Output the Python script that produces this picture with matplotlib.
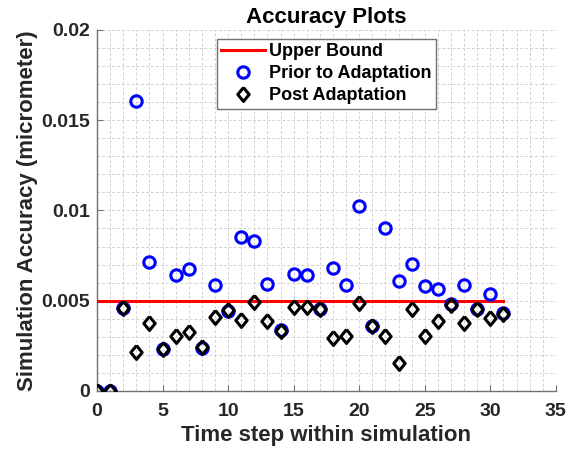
import numpy as np
import matplotlib
matplotlib.use("Agg")
import matplotlib.pyplot as plt
from matplotlib.ticker import MultipleLocator

plt.rcParams["font.family"] = ["Liberation Sans", "DejaVu Sans"]
plt.rcParams["font.weight"] = "bold"
plt.rcParams["text.color"] = "#262626"
plt.rcParams["axes.labelcolor"] = "#262626"
plt.rcParams["xtick.labelcolor"] = "#262626"
plt.rcParams["ytick.labelcolor"] = "#262626"

# time steps 0..31
steps = list(range(32))

prior = [0.0, 0.0, 0.00462, 0.01608, 0.00715, 0.00235, 0.00645, 0.00675,
         0.0024, 0.00588, 0.00444, 0.00852, 0.00828, 0.00595, 0.00336, 0.0065,
         0.00641, 0.00453, 0.00682, 0.00588, 0.01026, 0.0036, 0.009, 0.0061,
         0.00704, 0.0058, 0.00566, 0.00479, 0.00586, 0.00456, 0.00538, 0.00429]

post = [0.0, 0.0, 0.00462, 0.00218, 0.00379, 0.00235, 0.00303, 0.00327,
        0.00244, 0.00407, 0.00451, 0.00395, 0.0049, 0.00386, 0.00331, 0.00466,
        0.00466, 0.00456, 0.00294, 0.00305, 0.00486, 0.0036, 0.00305, 0.00152,
        0.00456, 0.00305, 0.00386, 0.00475, 0.00379, 0.00456, 0.00403, 0.00425]

bound_x = [0, 31]
bound_y = [0.005, 0.005]

fig = plt.figure(figsize=(5.79, 4.53), dpi=100)
ax = fig.add_axes([0.1675, 0.137, 0.7925, 0.797])

diamond = [(0, 1), (0.82, 0), (0, -1), (-0.82, 0), (0, 1)]

ax.plot(bound_x, bound_y, color="#ff0000", lw=2.2, label="Upper Bound", zorder=3)
ax.plot(steps, prior, linestyle="None", marker="o", ms=8.2, mfc="none",
        mec="#0000ff", mew=2.2, label="Prior to Adaptation", zorder=4)
ax.plot(steps, post, linestyle="None", marker=diamond, ms=10, mfc="none",
        mec="black", mew=2.2, label="Post Adaptation", zorder=5)

ax.set_xlim(0, 35)
ax.set_ylim(0, 0.02)
ax.xaxis.set_major_locator(MultipleLocator(5))
ax.xaxis.set_minor_locator(MultipleLocator(1))
ax.yaxis.set_major_locator(MultipleLocator(0.005))
ax.yaxis.set_minor_locator(MultipleLocator(0.001))
ax.set_yticks([0, 0.005, 0.01, 0.015, 0.02])
ax.set_yticklabels(["0", "0.005", "0.01", "0.015", "0.02"])

ax.grid(True, which="both", color="#d2d2d2", linestyle=(0, (3, 2)), lw=0.7)
ax.set_axisbelow(True)

for side in ("top", "right"):
    ax.spines[side].set_visible(False)
for side in ("left", "bottom"):
    ax.spines[side].set_color("#707070")
    ax.spines[side].set_linewidth(1.0)

ax.tick_params(which="major", direction="in", length=4, width=0.8,
               color="#707070", labelsize=14)
ax.tick_params(axis="x", which="major", pad=9)
ax.tick_params(axis="y", which="major", pad=5)
ax.tick_params(which="minor", length=0)
for lbl in ax.get_xticklabels() + ax.get_yticklabels():
    lbl.set_fontweight("bold")

ax.set_title("Accuracy Plots", fontsize=16, fontweight="bold", pad=5, color="black")
ax.set_xlabel("Time step within simulation", fontsize=16, fontweight="bold", labelpad=3)
ax.set_ylabel("Simulation Accuracy (micrometer)", fontsize=16, fontweight="bold", labelpad=2.5)

leg = ax.legend(loc="upper left", bbox_to_anchor=(0.261, 0.976), borderaxespad=0,
                fontsize=13, frameon=True, fancybox=False, framealpha=1,
                edgecolor="#707070", handlelength=2.4, handletextpad=0.25,
                labelspacing=0.28, borderpad=0.25)
leg.get_frame().set_linewidth(1.0)
for t in leg.get_texts():
    t.set_fontweight("bold")
    t.set_color("black")

fig.savefig("out.png", dpi=100)
